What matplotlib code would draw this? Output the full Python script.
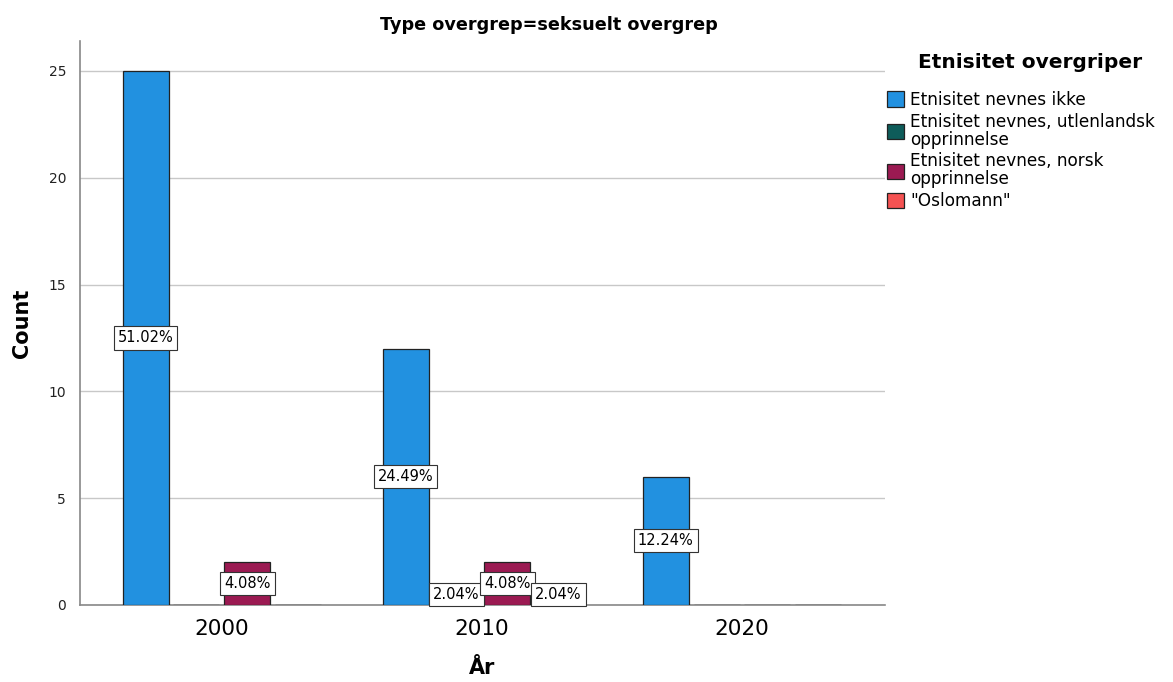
import numpy as np
import matplotlib
matplotlib.use("Agg")
import matplotlib.pyplot as plt
from matplotlib.patches import Patch

years = ["2000", "2010", "2020"]
categories = [
    "Etnisitet nevnes ikke",
    "Etnisitet nevnes, utlenlandsk\nopprinnelse",
    "Etnisitet nevnes, norsk\nopprinnelse",
    '"Oslomann"',
]
counts_ikke = [25, 12, 6]
counts_utl = [0, 1, 0]
counts_norsk = [2, 2, 0]
counts_oslo = [0, 1, 0]
colors = ["#2291e0", "#0e5c5a", "#9b1a52", "#f55252"]

series = [counts_ikke, counts_utl, counts_norsk, counts_oslo]
total = sum(sum(s) for s in series)

fig = plt.figure(figsize=(11.73, 6.82), dpi=100)
ax = fig.add_axes([80 / 1173, 1 - 605 / 682, 805 / 1173, 564 / 682])

x = np.arange(len(years))
slot = 0.196
width = 0.177
for i, (vals, col) in enumerate(zip(series, colors)):
    pos = x + (i - 1.5) * slot
    ax.bar(pos, vals, width=width, color=col, edgecolor="#222222", linewidth=0.9, zorder=3)
    for p, v in zip(pos, vals):
        if v > 0:
            ax.text(p, v / 2, f"{100 * v / total:.2f}%", ha="center", va="center",
                    fontsize=10.5, zorder=5,
                    bbox=dict(boxstyle="square,pad=0.28", fc="white", ec="#333333", lw=0.8))

ax.set_xlim(-0.546, 2.55)
ax.set_ylim(0, 26.4)
ax.set_yticks([0, 5, 10, 15, 20, 25])
ax.set_xticks(x)
ax.set_xticklabels(years, fontsize=15.5)
ax.tick_params(axis="y", labelsize=10, length=0, pad=10, colors="#222222")
ax.tick_params(axis="x", length=0, pad=10)
ax.yaxis.grid(True, color="#c8c8c8", linewidth=1, zorder=0)
ax.set_axisbelow(True)
for s in ["top", "right"]:
    ax.spines[s].set_visible(False)
for s in ["left", "bottom"]:
    ax.spines[s].set_color("#888888")
    ax.spines[s].set_linewidth(1.2)

ax.set_xlabel("År", fontsize=15, fontweight="bold", labelpad=14)
fig.text(22 / 1173, 1 - 323 / 682, "Count", rotation=90, ha="center", va="center",
         fontsize=15, fontweight="bold")

fig.text(549 / 1173, 1 - 25 / 682, "Type overgrep=seksuelt overgrep", ha="center", va="center",
         fontsize=12.7, fontweight="bold")

fig.text(1030 / 1173, 1 - 62 / 682, "Etnisitet overgriper", ha="center", va="center",
         fontsize=14.5, fontweight="bold")
handles = [Patch(facecolor=c, edgecolor="#222222", linewidth=0.9) for c in colors]
leg = fig.legend(handles, categories, loc="upper left", bbox_to_anchor=(880 / 1173, 1 - 84 / 682),
                 frameon=False, fontsize=12.2,
                 handlelength=1.0, handleheight=1.0, handletextpad=0.4,
                 labelspacing=0.22, borderaxespad=0)
for t in leg.get_texts():
    t.set_linespacing(1.0)

fig.savefig("out.png", dpi=100)
